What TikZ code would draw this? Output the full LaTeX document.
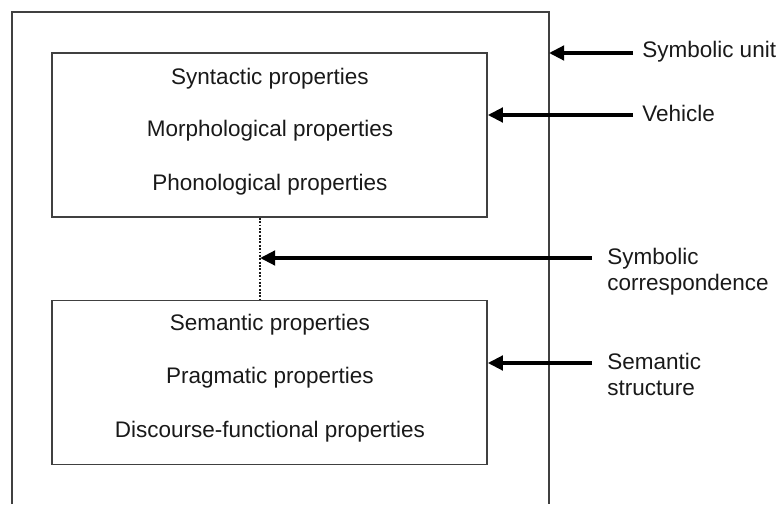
\documentclass[tikz,border=0pt]{standalone}
\usepackage{fontspec}
\setmainfont{Liberation Sans}
\usetikzlibrary{arrows.meta, positioning}

\begin{document}
\begin{tikzpicture}[
  box/.style={draw=black!75, line width=1.1pt, minimum width=10.875cm, minimum height=4.1cm},
  prop/.style={font=\fontsize{16}{19}\selectfont, text=black!90},
  lbl/.style={font=\fontsize{16}{18.5}\selectfont, text=black!90, inner sep=0pt, align=left},
  pointer/.style={line width=2.6pt, -{Triangle[length=0.38cm,width=0.36cm]}}
]
\useasboundingbox (0,0) rectangle (19.475,12.6);
% symbolic unit (open at the bottom)
\coordinate (unitsw) at (0.3,0);
\coordinate (unitnw) at (0.3,12.3);
\coordinate (unitne) at (13.725,12.3);
\coordinate (unitse) at (13.725,0);
\draw[black!75, line width=1.1pt] (unitsw) -- (unitnw) -- (unitne) -- (unitse);

\node[box] (vehicle) at (6.7375,9.225) {};
\node[box] (semantics) at (6.7375,3.0375) {};

\node[prop] (syn) at (6.75,10.63) {Syntactic properties};
\node[prop] (mor) at (6.75,9.33) {Morphological properties};
\node[prop] (pho) at (6.75,7.98) {Phonological properties};
\node[prop] (sem) at (6.75,4.48) {Semantic properties};
\node[prop] (pra) at (6.75,3.155) {Pragmatic properties};
\node[prop] (dis) at (6.75,1.805) {Discourse-functional properties};

\coordinate (link) at (6.5,6.15);
\draw[black!90, densely dotted, line width=1.4pt] (vehicle.south -| link) -- (semantics.north -| link);

\node[lbl, anchor=west] (unitlbl) at (16.05,11.3) {Symbolic unit};
\node[lbl, anchor=west] (vehlbl) at (16.05,9.775) {Vehicle};
\node[lbl, anchor=north west] (corrlbl) at (15.175,6.4) {Symbolic\\correspondence};
\node[lbl, anchor=north west] (semlbl) at (15.175,3.775) {Semantic\\structure};

\draw[pointer] ([xshift=-0.225cm]unitlbl.west |- 0,11.275) -- (unitne |- 0,11.275);
\draw[pointer] ([xshift=-0.225cm]vehlbl.west |- 0,9.725) -- (vehicle.east |- 0,9.725);
\draw[pointer] ([xshift=-0.375cm]corrlbl.west |- link) -- (link);
\draw[pointer] ([xshift=-0.375cm]semlbl.west |- 0,3.525) -- (semantics.east |- 0,3.525);
\end{tikzpicture}
\end{document}
